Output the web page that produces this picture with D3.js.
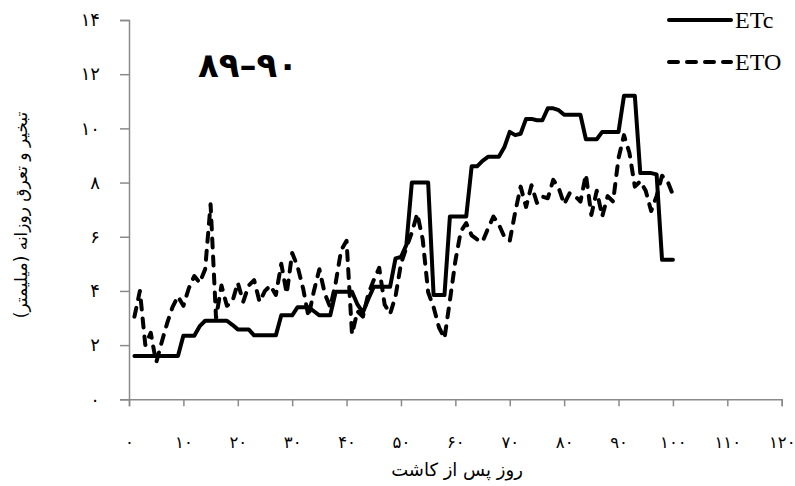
<!DOCTYPE html>
<html>
<head>
<meta charset="utf-8">
<script src="https://cdn.jsdelivr.net/npm/d3@7"></script>
<style>
  html, body { margin: 0; padding: 0; background: #ffffff; }
  svg { display: block; }
  .fa { font-family: "DejaVu Sans", sans-serif; }
</style>
</head>
<body>
<div id="chart"></div>
<script>
// Daily crop evapotranspiration (ETc) and reference evapotranspiration (ETO), mm/day
const days = d3.range(1, 101);

const etc = [
  1.6, 1.6, 1.6, 1.6, 1.6, 1.6, 1.6, 1.6, 1.6, 2.35,
  2.35, 2.35, 2.7, 2.9, 2.9, 2.9, 2.9, 2.9, 2.75, 2.58,
  2.58, 2.58, 2.36, 2.36, 2.36, 2.36, 2.36, 3.1, 3.1, 3.1,
  3.4, 3.4, 3.4, 3.25, 3.1, 3.1, 3.1, 3.97, 3.97, 3.97,
  3.97, 3.5, 3.2, 3.7, 4.15, 4.15, 4.15, 4.15, 5.2, 5.25,
  5.7, 8.0, 8.0, 8.0, 8.0, 3.85, 3.85, 3.85, 6.75, 6.75,
  6.75, 6.75, 8.6, 8.6, 8.8, 8.95, 8.95, 8.95, 9.3, 9.87,
  9.75, 9.8, 10.35, 10.35, 10.3, 10.3, 10.74, 10.74, 10.67, 10.5,
  10.5, 10.5, 10.5, 9.6, 9.6, 9.6, 9.87, 9.87, 9.87, 9.87,
  11.2, 11.2, 11.2, 8.35, 8.35, 8.35, 8.3, 5.15, 5.15, 5.15
];

const eto = [
  3.05, 4.0, 2.0, 2.45, 1.35, 2.1, 2.8, 3.4, 3.8, 3.45,
  4.1, 4.55, 4.3, 4.8, 7.2, 3.0, 4.2, 3.45, 3.6, 4.3,
  3.6, 4.2, 4.4, 3.6, 4.0, 4.2, 3.85, 5.0, 3.9, 5.4,
  4.9, 4.1, 3.05, 4.0, 4.8, 3.9, 3.4, 4.3, 5.5, 5.85,
  2.4, 3.25, 3.05, 3.9, 4.4, 4.85, 3.5, 3.15, 3.8, 5.0,
  5.6, 6.15, 6.85, 5.9, 3.95, 3.4, 2.65, 2.25, 3.65, 5.1,
  6.2, 6.5, 6.05, 5.9, 5.82, 6.3, 6.74, 6.45, 6.0, 5.85,
  6.9, 7.85, 7.1, 7.9, 7.25, 7.48, 7.42, 8.1, 7.8, 7.2,
  7.6, 7.5, 7.3, 8.3, 6.8, 7.7, 6.75, 7.5, 7.3, 8.9,
  9.75, 9.1, 7.85, 8.05, 7.7, 6.95, 7.5, 8.25, 8.05, 7.55
];

const xTicks = d3.range(0, 121, 10);
const yTicks = d3.range(0, 15, 2);
const seriesNames = ["ETc", "ETO"];
const titleText = "۸۹–۹۰";
const xTitle = "روز پس از کاشت";
const yTitle = "تبخیر و تعرق روزانه (میلیمتر)";

// Persian digit formatting for tick labels
const faDigits = "۰۱۲۳۴۵۶۷۸۹";
const toFa = v => String(v).replace(/[0-9]/g, c => faDigits[+c]);

const W = 795, H = 486;
const svg = d3.select("#chart").append("svg")
  .attr("width", W).attr("height", H);

const x = d3.scaleLinear().domain([0, 120]).range([129, 781.7]);
const y = d3.scaleLinear().domain([0, 14]).range([399.3, 20]);

const axisColor = "#8a8a8a";

// x axis
const gx = svg.append("g")
  .attr("transform", `translate(0,${y(0)})`)
  .call(d3.axisBottom(x).tickValues(xTicks).tickSize(7).tickPadding(30).tickFormat(toFa));
gx.select(".domain").attr("stroke", axisColor).attr("stroke-width", 1.5);
gx.selectAll(".tick line").attr("stroke", axisColor).attr("stroke-width", 1.5);
gx.selectAll(".tick text").attr("class", "fa").attr("font-size", 16.5).attr("fill", "#000");

// y axis
const gy = svg.append("g")
  .attr("transform", `translate(${x(0)},0)`)
  .call(d3.axisLeft(y).tickValues(yTicks).tickSize(9).tickPadding(20).tickFormat(toFa));
gy.select(".domain").attr("stroke", axisColor).attr("stroke-width", 1.5);
gy.selectAll(".tick line").attr("stroke", axisColor).attr("stroke-width", 1.5);
gy.selectAll(".tick text").attr("class", "fa").attr("font-size", 18).attr("fill", "#000");

// series lines
const line = d3.line().x((d, i) => x(days[i])).y(d => y(d));

svg.append("path")
  .datum(eto)
  .attr("d", line)
  .attr("fill", "none")
  .attr("stroke", "#000")
  .attr("stroke-width", 4)
  .attr("stroke-linejoin", "round")
  .attr("stroke-linecap", "round")
  .attr("stroke-dasharray", "9,9");

svg.append("path")
  .datum(etc)
  .attr("d", line)
  .attr("fill", "none")
  .attr("stroke", "#000")
  .attr("stroke-width", 4)
  .attr("stroke-linejoin", "round")
  .attr("stroke-linecap", "round");

// title inside the plot
svg.append("text")
  .attr("class", "fa")
  .attr("x", 248).attr("y", 77)
  .attr("text-anchor", "middle")
  .attr("font-size", 34)
  .attr("font-weight", "bold")
  .attr("letter-spacing", 4)
  .text(titleText);

// axis titles
svg.append("text")
  .attr("class", "fa")
  .attr("x", 457).attr("y", 476)
  .attr("text-anchor", "middle")
  .attr("direction", "rtl")
  .attr("font-size", 18)
  .text(xTitle);

svg.append("text")
  .attr("class", "fa")
  .attr("transform", "translate(27,215) rotate(-90)")
  .attr("text-anchor", "middle")
  .attr("direction", "rtl")
  .attr("font-size", 17)
  .text(yTitle);

// legend
const legend = svg.append("g");
const legendRows = [
  { name: seriesNames[0], dash: null, y: 20 },
  { name: seriesNames[1], dash: "9,9", y: 62 }
];
legendRows.forEach(r => {
  legend.append("line")
    .attr("x1", 669).attr("x2", 731)
    .attr("y1", r.y).attr("y2", r.y)
    .attr("stroke", "#000")
    .attr("stroke-width", 4)
    .attr("stroke-linecap", "round")
    .attr("stroke-dasharray", r.dash);
  legend.append("text")
    .attr("x", 735).attr("y", r.y + 8)
    .attr("font-family", "Liberation Serif, serif")
    .attr("font-size", 24)
    .text(r.name);
});
</script>
</body>
</html>
